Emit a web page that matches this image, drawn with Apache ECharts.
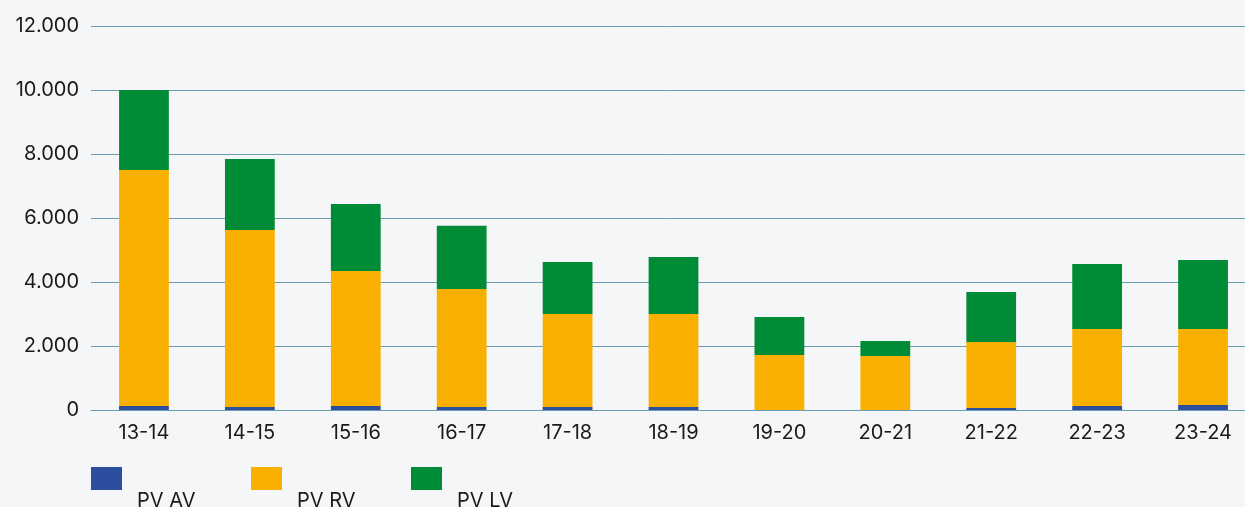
<!DOCTYPE html>
<html>
<head>
<meta charset="utf-8">
<script src="https://cdn.jsdelivr.net/npm/echarts@6/dist/echarts.min.js"></script>
<style>
  html, body { margin: 0; padding: 0; background: #f4f6f8; }
  #chart { width: 1245px; height: 507px; }
</style>
</head>
<body>
<div id="chart"></div>
<script>
// seizoenen
const categories = ['13-14', '14-15', '15-16', '16-17', '17-18', '18-19', '19-20', '20-21', '21-22', '22-23', '23-24'];
// waarden per reeks
const pvAV = [125, 95, 125, 95, 95, 95, 0, 0, 60, 125, 155];
const pvRV = [7375, 5530, 4220, 3690, 2905, 2905, 1720, 1690, 2065, 2405, 2375];
const pvLV = [2500, 2220, 2095, 1970, 1625, 1780, 1185, 470, 1565, 2030, 2155];
const yTicks = [0, 2000, 4000, 6000, 8000, 10000, 12000];
const seriesNames = ['PV AV', 'PV RV', 'PV LV'];
const colors = ['#2b4f9e', '#fab000', '#008c37'];

const chart = echarts.init(document.getElementById('chart'));

const fontFamily = 'Inter, "Noto Sans", sans-serif';

// elke legendaregel apart, tekst onder het blokje
const legends = seriesNames.map((name, i) => ({
  left: 91 + i * 160,
  top: 467,
  padding: 0,
  itemWidth: 31,
  itemHeight: 23,
  icon: 'rect',
  formatter: '{t|{name}}',
  textStyle: {
    rich: {
      t: {
        fontFamily: fontFamily,
        fontSize: 20,
        color: '#1a1a1a',
        padding: [44, 0, 0, 10]
      }
    }
  },
  data: [name]
}));

chart.setOption({
  backgroundColor: '#f4f6f8',
  animation: false,
  grid: {
    left: 91,
    width: 1165,
    top: 26,
    bottom: 97,
    outerBoundsMode: 'none'
  },
  legend: legends,
  xAxis: {
    type: 'category',
    data: categories,
    axisLine: { lineStyle: { color: '#6a9db2', width: 1 } },
    axisTick: { show: false },
    axisLabel: {
      fontFamily: fontFamily,
      fontSize: 20,
      color: '#1a1a1a',
      margin: 13
    }
  },
  yAxis: {
    type: 'value',
    min: yTicks[0],
    max: yTicks[yTicks.length - 1],
    interval: 2000,
    axisLine: { show: false },
    axisTick: { show: false },
    splitLine: { lineStyle: { color: '#6a9db2', width: 1 } },
    axisLabel: {
      fontFamily: fontFamily,
      fontSize: 20,
      color: '#1a1a1a',
      margin: 12,
      // punt als duizendtalscheiding
      formatter: (v) => v.toString().replace(/\B(?=(\d{3})+(?!\d))/g, '.')
    }
  },
  series: seriesNames.map((name, i) => ({
    name: name,
    type: 'bar',
    stack: 'pv',
    barWidth: '47%',
    itemStyle: { color: colors[i] },
    data: [pvAV, pvRV, pvLV][i]
  }))
});
</script>
</body>
</html>
